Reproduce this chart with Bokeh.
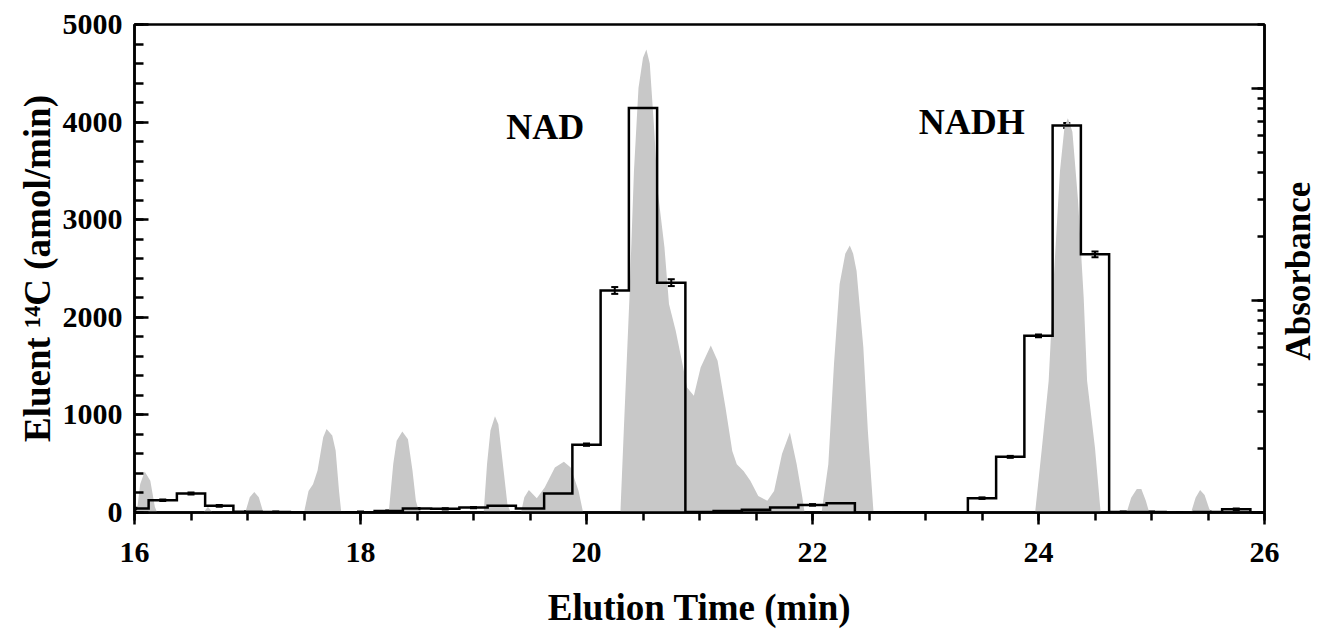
from math import pi
from bokeh.plotting import figure
from bokeh.models import (Range1d, LogAxis, LinearAxis, LogScale, LogTicker, SingleIntervalTicker,
                          FixedTicker, Label, Whisker, ColumnDataSource, TeeHead)
from bokeh.embed import file_html
from bokeh.resources import INLINE

FONT = "Liberation Serif"

# ---- 14C fractions (amol/min), bin centres in min ----
bin_t = [16.00, 16.25, 16.50, 16.75, 17.00, 17.25, 17.50, 17.75, 18.00, 18.25,
         18.50, 18.75, 19.00, 19.25, 19.50, 19.75, 20.00, 20.25, 20.50, 20.75,
         21.00, 21.25, 21.50, 21.75, 22.00, 22.25, 22.50, 22.75, 23.00, 23.25,
         23.50, 23.75, 24.00, 24.25, 24.50, 24.75, 25.00, 25.25, 25.50, 25.75]
c14 = [40, 125, 195, 68, 7, 5, 0, 0, 3, 15,
       40, 38, 50, 68, 40, 195, 695, 2275, 4145, 2355,
       5, 15, 28, 50, 78, 95, 0, 0, 0, 0,
       147, 570, 1810, 3965, 2645, 5, 5, 0, 5, 34]
c14_err = [8, 8, 10, 8, 6, 6, 6, 6, 6, 6,
           6, 6, 6, 8, 6, 10, 12, 35, 30, 35,
           6, 6, 6, 8, 8, 10, 6, 6, 6, 6,
           8, 10, 15, 25, 30, 6, 6, 6, 6, 8]
BIN_WIDTH = 0.25

# ---- absorbance trace (arbitrary units, drawn on linear scale) ----
abs_t = [16.00, 16.02, 16.05, 16.09, 16.14, 16.18, 16.20,
         16.61, 16.65, 16.69,
         16.98, 17.02, 17.06, 17.10, 17.14,
         17.50, 17.54, 17.58, 17.62, 17.67, 17.70, 17.75, 17.78, 17.81, 17.83,
         18.25, 18.29, 18.32, 18.37, 18.42, 18.46, 18.49, 18.52,
         19.09, 19.12, 19.15, 19.19, 19.22, 19.27, 19.30, 19.33,
         19.42, 19.45, 19.49, 19.56, 19.63, 19.72, 19.80, 19.86, 19.93, 19.97,
         20.30, 20.33, 20.38, 20.42, 20.46, 20.50, 20.53, 20.56, 20.60, 20.63,
         20.69, 20.73, 20.79, 20.85, 20.89, 20.95, 21.01, 21.10, 21.16, 21.23,
         21.29, 21.33, 21.39, 21.45, 21.52, 21.60, 21.66, 21.73, 21.80, 21.86,
         21.91, 21.93,
         22.08, 22.14, 22.19, 22.24, 22.29, 22.33, 22.36, 22.39, 22.45, 22.49, 22.54,
         23.97, 24.03, 24.09, 24.14, 24.19, 24.23, 24.26, 24.30, 24.35, 24.40,
         24.43, 24.50, 24.55,
         24.78, 24.82, 24.87, 24.91, 24.95, 24.98,
         25.35, 25.39, 25.43, 25.47, 25.51, 25.53,
         26.00]
abs_v = [0, 0, 290, 420, 325, 60, 0,
         0, 60, 0,
         0, 155, 210, 155, 0,
         0, 220, 290, 430, 770, 855, 790, 635, 220, 0,
         0, 500, 735, 830, 750, 430, 120, 0,
         0, 500, 840, 985, 905, 395, 85, 0,
         0, 155, 230, 145, 255, 460, 520, 460, 220, 0,
         0, 840, 2200, 3500, 4350, 4660, 4745, 4600, 3910, 3300,
         2715, 2135, 1860, 1520, 1280, 1195, 1485, 1710, 1555, 1075,
         630, 495, 425, 325, 170, 120, 220, 600, 820, 495,
         155, 0,
         0, 495, 1520, 2340, 2650, 2735, 2650, 2475, 1690, 835, 0,
         0, 660, 1350, 2500, 3500, 3950, 4040, 3900, 3200, 2200,
         1350, 660, 0,
         0, 150, 240, 240, 120, 0,
         0, 150, 230, 180, 40, 0,
         0]

x_ticks_interval = 2
y_ticks_interval = 1000

p = figure(width=1342, height=633, x_range=Range1d(16, 26), y_range=Range1d(0, 5000),
           output_backend="svg", toolbar_location=None,
           min_border_left=134, min_border_right=78, min_border_top=24, min_border_bottom=121,
           background_fill_color="white", border_fill_color="white")
p.xgrid.visible = False
p.ygrid.visible = False
p.outline_line_color = "black"
p.outline_line_width = 2.5

# absorbance fill
p.varea(x=abs_t, y1=[0] * len(abs_t), y2=abs_v, fill_color="#c8c8c8")

# histogram step outline
half = BIN_WIDTH / 2
hx, hy = [], []
for c, v in zip(bin_t, c14):
    hx += [max(c - half, 16.0), c + half]
    hy += [v, v]
hx.append(bin_t[-1] + half)
hy.append(0)
p.line(hx, hy, line_color="black", line_width=2.5, line_join="miter")

src = ColumnDataSource(dict(t=bin_t,
                            lo=[v - e for v, e in zip(c14, c14_err)],
                            hi=[v + e for v, e in zip(c14, c14_err)]))
w = Whisker(base="t", lower="lo", upper="hi", source=src, line_color="black", line_width=2,
            upper_head=TeeHead(size=7, line_width=2, line_color="black"),
            lower_head=TeeHead(size=7, line_width=2, line_color="black"))
p.add_layout(w)

# x axis
xa = p.xaxis[0]
xa.ticker = SingleIntervalTicker(interval=x_ticks_interval, num_minor_ticks=4)
xa.axis_label = "Elution Time (min)"
# y axis
ya = p.yaxis[0]
ya.ticker = SingleIntervalTicker(interval=y_ticks_interval, num_minor_ticks=5)
ya.axis_label = "Eluent \u00b9\u2074C (amol/min)"

for ax in (xa, ya):
    ax.axis_line_width = 2.5
    ax.axis_line_color = "black"
    ax.major_tick_line_width = 2.5
    ax.minor_tick_line_width = 2.5
    ax.major_tick_line_color = "black"
    ax.minor_tick_line_color = "black"
    ax.major_label_text_font = FONT
    ax.major_label_text_font_style = "bold"
    ax.major_label_text_font_size = "30px"
    ax.major_label_text_color = "black"
    ax.axis_label_text_font = FONT
    ax.axis_label_text_font_style = "bold"
    ax.axis_label_text_font_size = "37px"
    ax.axis_label_text_color = "black"

xa.major_tick_in = 0
xa.major_tick_out = 12
xa.minor_tick_in = 0
xa.minor_tick_out = 8
xa.major_label_standoff = 18
xa.axis_label_standoff = 22

ya.major_tick_in = 14
ya.major_tick_out = 0
ya.minor_tick_in = 9
ya.minor_tick_out = 0
ya.major_label_standoff = 12
ya.axis_label_standoff = 2

# right log axis (absorbance), no tick labels
p.extra_y_ranges = {"abs": Range1d(0.001, 0.2), "lab": Range1d(0, 488)}
p.extra_y_scales = {"abs": LogScale()}
ra = LogAxis(y_range_name="abs", ticker=LogTicker(num_minor_ticks=10),
             major_tick_in=13, major_tick_out=0, minor_tick_in=7, minor_tick_out=0,
             axis_line_width=2.5, major_tick_line_width=2.5, minor_tick_line_width=2.5,
             major_label_text_font_size="1px", major_label_text_alpha=0.0,
             major_label_standoff=0)
p.add_layout(ra, "right")

# axis title of the absorbance axis (text reads bottom to top)
LAB_POS = 152
la = LinearAxis(y_range_name="lab", ticker=FixedTicker(ticks=[LAB_POS], minor_ticks=[]),
                major_label_overrides={LAB_POS: "Absorbance"},
                major_label_orientation=pi / 2,
                major_tick_in=0, major_tick_out=0, minor_tick_in=0, minor_tick_out=0,
                axis_line_alpha=0.0, major_tick_line_alpha=0.0,
                major_label_text_font=FONT, major_label_text_font_style="bold",
                major_label_text_font_size="35px", major_label_text_color="black",
                major_label_standoff=34)
p.add_layout(la, "right")

p.add_layout(Label(x=19.29, y=3945, text="NAD", text_font=FONT, text_font_style="bold",
                   text_font_size="36px", text_color="black", text_baseline="alphabetic"))
p.add_layout(Label(x=22.94, y=4006, text="NADH", text_font=FONT, text_font_style="bold",
                   text_font_size="36px", text_color="black", text_baseline="alphabetic"))

open("out.html", "w").write(file_html(p, INLINE))
